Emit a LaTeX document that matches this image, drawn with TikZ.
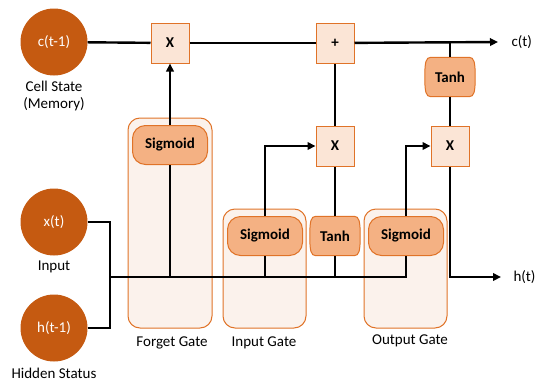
\documentclass[tikz,border=0pt]{standalone}
\usepackage{fontspec}
\setmainfont{Carlito}
\usetikzlibrary{arrows.meta,backgrounds}

\definecolor{rust}{HTML}{C55A11}
\definecolor{peach}{HTML}{F4B183}
\definecolor{cream}{HTML}{FBE5D6}
\definecolor{shell}{HTML}{FBF2EC}
\definecolor{edge}{HTML}{E07328}

\begin{document}
\begin{tikzpicture}[x=1pt, y=-1pt,
  every node/.style={font=\fontsize{15}{17.5}\selectfont},
  wire/.style={line width=2.4pt},
  flow/.style={wire, -{Triangle[length=8pt,width=7.5pt]}},
  state/.style={circle, fill=rust, text=white, minimum size=67pt, inner sep=0pt},
  opbox/.style={draw=edge, fill=cream, line width=1pt, minimum width=38pt,
    minimum height=40pt, inner sep=0pt, font=\fontsize{15}{17.5}\selectfont\bfseries},
  sigbox/.style={draw=edge, fill=peach, line width=1pt, rounded corners=13pt,
    minimum width=75pt, minimum height=39pt, inner sep=0pt,
    font=\fontsize{15}{17.5}\selectfont\bfseries},
  tanhbox/.style={minimum width=40pt, minimum height=39pt, inner sep=0pt,
    font=\fontsize{15}{17.5}\selectfont\bfseries},
  tanhshell/.style={draw=edge, fill=peach, line width=1pt},
  gatebox/.style={draw=edge, fill=shell, line width=1pt, rounded corners=12pt}]

  \useasboundingbox (0,0) rectangle (541,383);

  %% gate backgrounds
  \draw[gatebox] (128,118) rectangle (212,328);
  \draw[gatebox] (223,209) rectangle (306,328);
  \draw[gatebox] (364,209) rectangle (447,328);
  \node (forgetlbl) at (172,343) {Forget Gate};
  \node (inputlbl) at (264,343) {Input Gate};
  \node (outputlbl) at (410,341) {Output Gate};

  %% states
  \node[state] (ctm1) at (54,42) {c(t-1)};
  \node[align=center] (memlbl) at (54,96) {Cell State\\(Memory)};
  \node[state] (xt) at (54,222) {x(t)};
  \node (xlbl) at (54,267) {Input};
  \node[state] (htm1) at (54,328) {h(t-1)};
  \node (hlbl) at (54,373) {Hidden Status};

  %% operations
  \node[opbox] (fx) at (170,43) {X};
  \node[opbox] (plus) at (335,43) {+};
  \node[opbox] (ix) at (335,146) {X};
  \node[opbox] (ox) at (450,146) {X};
  \node[tanhbox] (otanh) at (450,77) {Tanh};

  \node[sigbox] (fsig) at (170,145) {Sigmoid};
  \node[sigbox] (isig) at (265,236) {Sigmoid};
  \node[tanhbox] (itanh) at (335,236) {Tanh};
  \node[sigbox] (osig) at (406,236) {Sigmoid};

  % bulging outline behind the Tanh nodes
  \begin{scope}[on background layer]
    \foreach \t in {itanh, otanh}
      \draw[tanhshell] ([xshift=1pt]\t.north west) -- ([xshift=-1pt]\t.north east)
        .. controls ([xshift=4pt]\t.north east) and ([xshift=5pt,yshift=-5pt]\t.north east)
        .. ([xshift=5pt]\t.east)
        .. controls ([xshift=5pt,yshift=5pt]\t.south east) and ([xshift=4pt]\t.south east)
        .. ([xshift=-1pt]\t.south east) -- ([xshift=1pt]\t.south west)
        .. controls ([xshift=-4pt]\t.south west) and ([xshift=-5pt,yshift=5pt]\t.south west)
        .. ([xshift=-5pt]\t.west)
        .. controls ([xshift=-5pt,yshift=-5pt]\t.north west) and ([xshift=-4pt]\t.north west)
        .. cycle;
  \end{scope}

  %% outputs
  \coordinate (join) at (110,277);
  \coordinate (cend) at (498,42);
  \coordinate (hend) at (501,277);
  \node[anchor=west] (ct) at (508,42) {c(t)};
  \node[anchor=west] (ht) at (510,277) {h(t)};

  %% cell state line
  \draw[wire] (ctm1) -- (fx);
  \draw[wire] (fx) -- (plus);
  \draw[flow] (plus) -- (cend);

  %% inputs and bus
  \draw[wire] (xt) -| (join);
  \draw[wire] (htm1) -| (join);
  \draw[wire] (join) -| (osig);

  %% forget gate
  \draw[wire] (fsig |- join) -- (fsig);
  \draw[flow] (fsig) -- (fx);

  %% input gate
  \draw[wire] (isig |- join) -- (isig);
  \draw[flow] (isig) |- (ix);
  \draw[wire] (itanh |- join) -- (itanh);
  \draw[wire] (itanh) -- (ix);
  \draw[wire] (ix) -- (plus);

  %% output gate
  \draw[flow] (osig) |- (ox);
  \draw[wire] (otanh |- plus) -- (otanh);
  \draw[wire] (otanh) -- (ox);
  \draw[flow] (ox) |- (hend);
\end{tikzpicture}
\end{document}
